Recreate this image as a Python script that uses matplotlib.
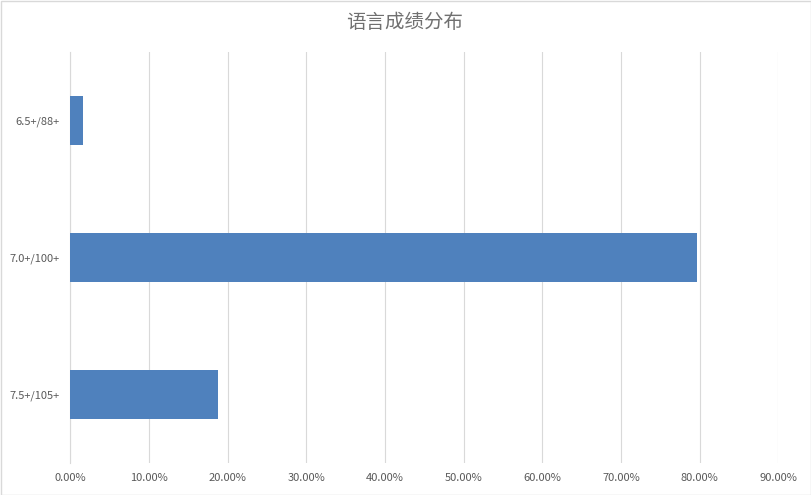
import matplotlib
matplotlib.use("Agg")
import matplotlib.pyplot as plt
from matplotlib.ticker import FuncFormatter, MultipleLocator
from matplotlib.patches import Rectangle

plt.rcParams['font.family'] = ['Noto Sans CJK SC', 'DejaVu Sans']

categories = ["6.5+/88+", "7.0+/100+", "7.5+/105+"]
values = [1.56, 79.69, 18.75]
title = "语言成绩分布"

W, H = 812, 495
fig = plt.figure(figsize=(W / 100, H / 100), dpi=100)
ax = fig.add_axes([70.3 / W, 1 - 462.8 / H, (778.3 - 70.3) / W, (462.8 - 52) / H])

ax.barh(range(len(categories)), values, height=0.357, color="#4F81BD", zorder=3)
ax.set_yticks(range(len(categories)))
ax.set_yticklabels(categories)
ax.set_ylim(2.5, -0.5)
ax.set_xlim(0, 90)
ax.xaxis.set_major_locator(MultipleLocator(10))
ax.xaxis.set_major_formatter(FuncFormatter(lambda v, p: f"{v:.2f}%"))
ax.grid(axis="x", color="#D9D9D9", linewidth=0.8, zorder=0)
for s in ["top", "right", "bottom"]:
    ax.spines[s].set_visible(False)
ax.spines["left"].set_color("#D9D9D9")
ax.spines["left"].set_linewidth(0.8)
ax.tick_params(axis="both", length=0, labelsize=8, labelcolor="#595959")
ax.tick_params(axis="x", pad=7)
ax.tick_params(axis="y", pad=8)

fig.text(405 / W, 1 - 22 / H, title, ha="center", va="center", fontsize=14,
         fontweight="light", color="#707070")
fig.patches.append(Rectangle((0.5 / W, 0.5 / H), 1 - 1.5 / W, 1 - 1.5 / H, transform=fig.transFigure,
                             fill=False, edgecolor="#D9D9D9", linewidth=1))

fig.savefig("out.png", dpi=100)
